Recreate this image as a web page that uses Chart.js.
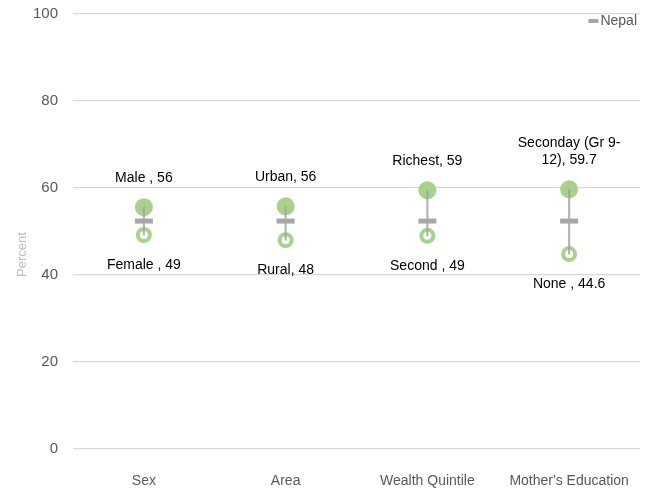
<!DOCTYPE html>
<html>
<head>
<meta charset="utf-8">
<script src="https://cdn.jsdelivr.net/npm/chart.js@4/dist/chart.umd.min.js"></script>
<style>
  html,body{margin:0;padding:0;background:#fff}
  #wrap{width:654px;height:493px;position:relative}
</style>
</head>
<body>
<div id="wrap"><canvas id="c"></canvas></div>
<script>
// Data
const categories = ["Sex","Area","Wealth Quintile","Mother's Education"];
const highValues = [55.6, 55.8, 59.5, 59.7];
const lowValues  = [49.2, 48.0, 49.0, 44.8];
const nepalValues = [52.4, 52.4, 52.4, 52.4];
const highLabels = [["Male , 56"],["Urban, 56"],["Richest, 59"],["Seconday (Gr 9-","12), 59.7"]];
const lowLabels  = [["Female , 49"],["Rural, 48"],["Second , 49"],["None , 44.6"]];
const yTicks = [0,20,40,60,80,100];

const green="#a9d18e", gray="#a6a6a6", txt="#595959";
const FONT="'Liberation Sans', Arial, sans-serif";

// draws the point text labels, the legend and the axis title
const pointLabels = {
  id:"pointLabels",
  afterDatasetsDraw(chart){
    const ctx=chart.ctx, ca=chart.chartArea;
    ctx.save();
    ctx.font="14px "+FONT; ctx.fillStyle="#000"; ctx.textAlign="center"; ctx.textBaseline="middle";
    chart.getDatasetMeta(1).data.forEach((p,i)=>{
      const lines=highLabels[i];
      lines.forEach((t,k)=>ctx.fillText(t,p.x,p.y-29-(lines.length-1-k)*17));
    });
    chart.getDatasetMeta(2).data.forEach((p,i)=>{
      lowLabels[i].forEach((t,k)=>ctx.fillText(t,p.x,p.y+30+k*17));
    });
    // legend (top right, inside plot)
    ctx.textAlign="left"; ctx.fillStyle=txt;
    const w=ctx.measureText("Nepal").width;
    const tx=ca.right-3-w;
    ctx.fillText("Nepal",tx,ca.top+7);
    ctx.fillStyle=gray;
    ctx.fillRect(tx-12,ca.top+5,10,4);
    // y title
    ctx.translate(22,(ca.top+ca.bottom)/2+23);
    ctx.rotate(-Math.PI/2);
    ctx.textAlign="center"; ctx.fillStyle="#bfbfbf"; ctx.font="13px "+FONT;
    ctx.fillText("Percent",0,0);
    ctx.restore();
  }
};

new Chart(document.getElementById("c"),{
  type:"bar",
  data:{
    labels:categories,
    datasets:[
      { label:"range", data:categories.map((c,i)=>[lowValues[i],highValues[i]]),
        backgroundColor:"rgba(160,160,160,0.8)", barThickness:1.5, order:1 },
      { type:"line", label:"High", data:highValues, showLine:false,
        pointRadius:9, pointHoverRadius:9, pointBackgroundColor:green, pointBorderWidth:0, order:3 },
      { type:"line", label:"Low", data:lowValues, showLine:false,
        pointRadius:6, pointHoverRadius:6, pointBackgroundColor:"#fff", pointBorderColor:green, pointBorderWidth:4, order:2 },
      { type:"line", label:"Nepal", data:nepalValues, showLine:false, pointStyle:"line",
        pointRadius:9, pointHoverRadius:9, pointBorderColor:gray, pointBorderWidth:5, backgroundColor:gray, borderColor:gray, order:0 }
    ]
  },
  options:{
    responsive:true, maintainAspectRatio:false, animation:false,
    layout:{padding:{left:16,right:13,top:14,bottom:0}},
    plugins:{ tooltip:{enabled:false}, legend:{display:false} },
    scales:{
      x:{
        grid:{display:false}, border:{display:false},
        ticks:{color:txt,font:{family:FONT,size:14},padding:16},
        afterFit:s=>{s.height=44;}
      },
      y:{
        min:0,max:100,
        afterBuildTicks:ax=>{ax.ticks=yTicks.map(v=>({value:v}));},
        grid:{color:"#d9d9d9",lineWidth:1.3,drawTicks:false},
        border:{display:false},
        ticks:{color:txt,font:{family:FONT,size:15},padding:15},
        afterFit:s=>{s.width=57; s.paddingTop=0; s.paddingBottom=0;}
      }
    }
  },
  plugins:[pointLabels]
});
</script>
</body>
</html>
